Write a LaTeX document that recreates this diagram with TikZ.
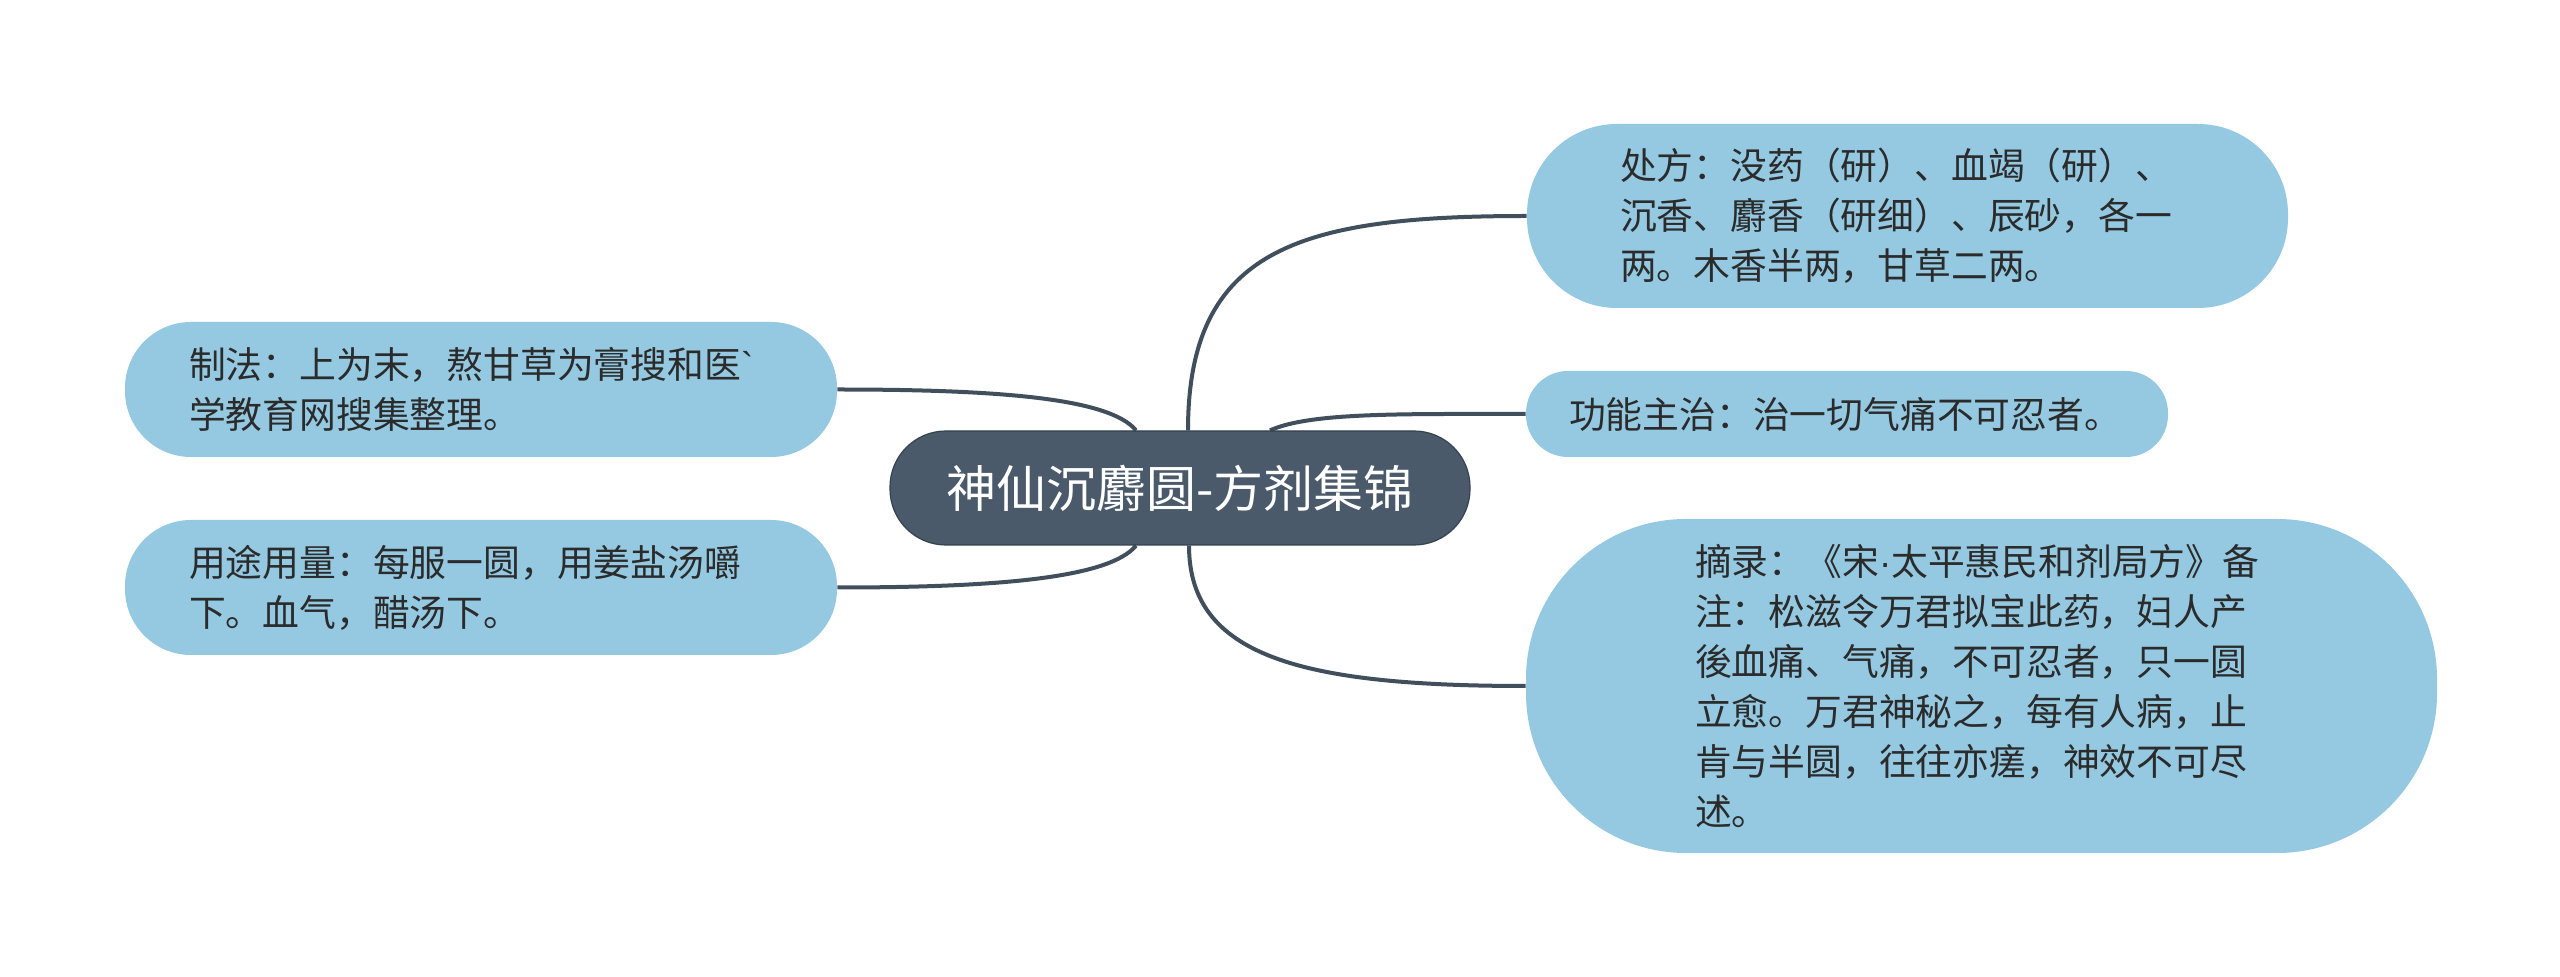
\documentclass[tikz,border=0pt]{standalone}
\usepackage{fontspec}
\setmainfont{Noto Sans CJK SC}
\newfontfamily\latinfont{Liberation Sans}
\usetikzlibrary{backgrounds}
\definecolor{leaffill}{HTML}{94C9E1}
\definecolor{rootfill}{HTML}{4A5A6A}
\definecolor{rootline}{HTML}{34424F}
\definecolor{linkcol}{HTML}{414F5D}
\definecolor{textcol}{HTML}{2B2B2B}
\tikzset{
  rootbox/.style={fill=rootfill, draw=rootline, line width=0.6pt, text=white,
    font=\fontsize{25pt}{30pt}\selectfont, inner sep=0pt,
    minimum width=290pt, minimum height=57pt, rounded corners=28pt},
  leafbox/.style={fill=leaffill, draw=none, text=textcol, align=left,
    font=\fontsize{18.4pt}{25pt}\selectfont, inner sep=0pt},
  link/.style={draw=linkcol, line width=2pt}
}
\begin{document}
\begin{tikzpicture}[x=0.5pt,y=-0.5pt]
\useasboundingbox (0,0) rectangle (2560,977);
\node[rootbox] (root) at (1180,488) {神仙沉麝圆-方剂集锦};
\node[leafbox, text width=287.5pt, minimum width=380.5pt, minimum height=92pt, rounded corners=45pt] (chufang) at (1907.5,216)
  {处方：没药（研）、血竭（研）、\\沉香、麝香（研细）、辰砂，各一\\两。木香半两，甘草二两。};
\node[leafbox, text width=278pt, minimum width=321pt, minimum height=43pt, rounded corners=21pt] (gongneng) at (1847,414)
  {功能主治：治一切气痛不可忍者。};
\node[leafbox, text width=286.5pt, minimum width=455.5pt, minimum height=167pt, rounded corners=80pt] (zhailu) at (1981.5,686)
  {摘录：《宋{\latinfont ·}太平惠民和剂局方》备\\注：松滋令万君拟宝此药，妇人产\\後血痛、气痛，不可忍者，只一圆\\立愈。万君神秘之，每有人病，止\\肯与半圆，往往亦瘥，神效不可尽\\述。};
\node[leafbox, text width=292pt, minimum width=356pt, minimum height=67.5pt, rounded corners=33pt] (zhifa) at (481,389.5)
  {制法：上为末，熬甘草为膏搜和医{\latinfont\symbol{96}}\\学教育网搜集整理。};
\node[leafbox, text width=292pt, minimum width=356pt, minimum height=67.5pt, rounded corners=33pt] (yongtu) at (481,587.5)
  {用途用量：每服一圆，用姜盐汤嚼\\下。血气，醋汤下。};
\begin{scope}[on background layer]
\fill[white] (0,0) rectangle (2560,977);
\draw[link] ([xshift=4pt]root.north) .. controls +(0,-182) and +(-227,0) .. (chufang.west);
\draw[link] ([xshift=45pt]root.north) .. controls +(40,-18) and +(-126,0) .. (gongneng.west);
\draw[link] ([xshift=4.5pt]root.south) .. controls +(0,110) and +(-226,0) .. (zhailu.west);
\draw[link] ([xshift=-22pt]root.north) .. controls +(-26,-32) and +(163,0) .. (zhifa.east);
\draw[link] ([xshift=-22pt]root.south) .. controls +(-26,32) and +(163,0) .. (yongtu.east);
\end{scope}
\end{tikzpicture}
\end{document}
